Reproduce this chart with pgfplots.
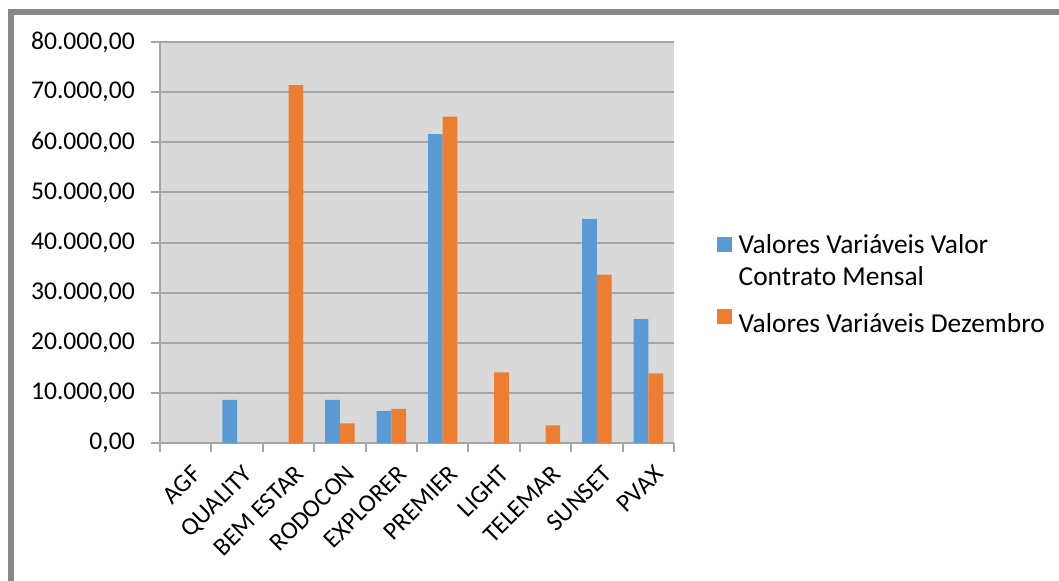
\documentclass[border=0pt]{standalone}
\usepackage{fontspec}
\setmainfont{Carlito}
\usepackage{pgfplots}
\pgfplotsset{compat=1.18}
\definecolor{barblue}{HTML}{5B9BD5}
\definecolor{barorange}{HTML}{ED7D31}
\definecolor{plotbg}{HTML}{D9D9D9}
\definecolor{gridgray}{HTML}{A5A5A5}
\definecolor{framegray}{HTML}{878787}
\newcommand{\chartfont}{\fontsize{13.7}{16}\selectfont}
\begin{document}
\begin{tikzpicture}
\useasboundingbox (0pt,0pt) rectangle (529.5pt,290pt);
\draw[framegray, line width=3pt] (5.25pt,-10pt) -- (5.25pt,283.85pt) -- (540pt,283.85pt);
\begin{axis}[
  at={(80pt,68.5pt)}, anchor=south west,
  scale only axis, width=257pt, height=200.5pt,
  xmin=-0.5, xmax=9.5, ymin=0, ymax=80000,
  axis background/.style={fill=plotbg},
  axis lines*=left,
  axis line style={gridgray, line width=1pt},
  ybar, bar width=7.35pt,
  ytick={0,10000,...,80000},
  ymajorgrids, grid style={gridgray, line width=1pt},
  tick align=outside,
  major tick length=4.5pt,
  tick style={gridgray, line width=1pt},
  xtick={0,...,9},
  major x tick style={draw=none},
  xticklabels={AGF,QUALITY,BEM ESTAR,RODOCON,EXPLORER,PREMIER,LIGHT,TELEMAR,SUNSET,PVAX},
  extra x ticks={-0.5,0.5,...,9.5},
  extra x tick labels={},
  extra x tick style={major x tick style={draw=gridgray, line width=1pt}, major tick length=4.5pt},
  xticklabel style={rotate=45, anchor=north east, font=\fontsize{12.6}{15}\selectfont, yshift=-2.5pt, xshift=1pt},
  yticklabel style={font=\fontsize{12.8}{15}\selectfont, xshift=-4.6pt},
  /pgf/number format/.cd, fixed, fixed zerofill, precision=2, 1000 sep={.}, use comma, assume math mode=true,
  /pgfplots/.cd,
  scaled y ticks=false,
  legend style={at={(1.083,0.530)}, anchor=north west, draw=none, fill=none, inner sep=0pt,
    nodes={inner sep=0pt, font=\chartfont}, column sep=3.3pt, row sep=3.5pt},
  legend cell align=left,
  legend image code/.code={\fill[#1,draw=none] (0pt,-4.1pt) rectangle (7.5pt,3.4pt);},
]
\addplot[fill=barblue, draw=none, bar shift=-3.675pt] coordinates {
 (1,8600) (3,8600) (4,6400) (5,61600) (8,44700) (9,24700)};
\addlegendentry{\strut Valores Variáveis Valor}
\addlegendimage{empty legend}
\addlegendentry{\strut Contrato Mensal}
\addplot[fill=barorange, draw=none, bar shift=3.675pt] coordinates {
 (2,71400) (3,3900) (4,6800) (5,65100) (6,14100) (7,3500) (8,33600) (9,13900)};
\addlegendentry{\rule{0pt}{18.2pt}\strut Valores Variáveis Dezembro}
\end{axis}
\end{tikzpicture}
\end{document}
